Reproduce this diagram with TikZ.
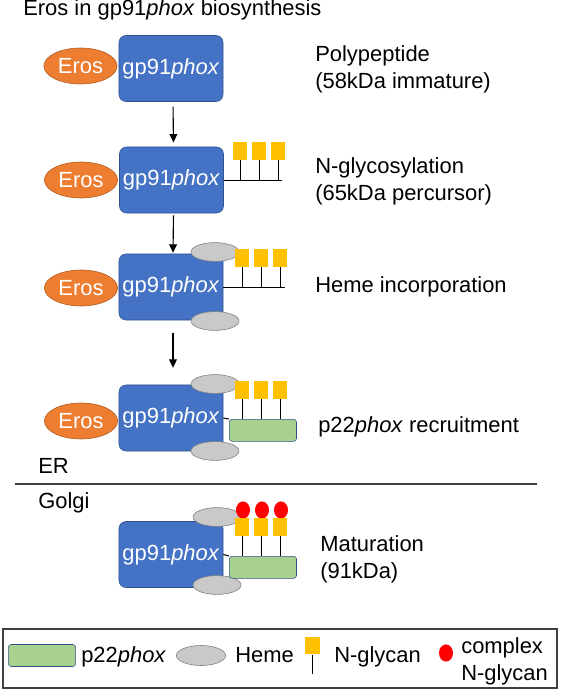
\documentclass[tikz,border=0pt]{standalone}
\usepackage{fontspec}
\setmainfont{Liberation Sans}
\usetikzlibrary{arrows.meta,shapes.geometric}

\definecolor{gpblue}{HTML}{4472C4}
\definecolor{gpedge}{HTML}{2F528F}
\definecolor{erosorange}{HTML}{ED7D31}
\definecolor{erosedge}{HTML}{AE5A21}
\definecolor{hemegray}{HTML}{C9C9C9}
\definecolor{hemeedge}{HTML}{7F7F7F}
\definecolor{glyyellow}{HTML}{FFC000}
\definecolor{ptgreen}{HTML}{A9D18E}
\definecolor{rulegray}{HTML}{404040}

\tikzset{
  every node/.style={font=\fontsize{15.6}{19.2}\selectfont},
  gp/.style={draw=gpedge, fill=gpblue, rounded corners=5pt, minimum width=2.6cm, minimum height=1.65cm, text=white, inner sep=0pt},
  eros/.style={ellipse, draw=erosedge, fill=erosorange, minimum width=1.83cm, minimum height=0.9cm, text=white, inner sep=0pt},
  heme/.style={ellipse, draw=hemeedge, fill=hemegray, minimum width=1.2cm, minimum height=0.47cm, inner sep=0pt},
  glyc/.style={fill=glyyellow, minimum width=0.37cm, minimum height=0.44cm, inner sep=0pt},
  cplx/.style={ellipse, fill=red, minimum width=0.35cm, minimum height=0.43cm, inner sep=0pt},
  ptbox/.style={draw=gpedge, fill=ptgreen, rounded corners=2pt, minimum width=1.68cm, minimum height=0.55cm, inner sep=0pt},
  lbl/.style={anchor=base west, inner sep=0pt, align=left},
  flow/.style={-{Triangle[length=6pt,width=5.5pt]}, line width=0.8pt},
  stem/.style={line width=0.7pt}
}

\begin{document}
\begin{tikzpicture}[x=0.025cm,y=-0.025cm]
\useasboundingbox (0,0) rectangle (560,689);

\node[lbl] (title) at (23,16) {Eros in gp91\textit{phox} biosynthesis};

% polypeptide
\node[gp] (gp1) at (171,68.5) {gp91\textit{phox}};
\node[eros] (er1) at (80.5,66) {Eros};
\node[lbl] (s1) at (315,89) {Polypeptide\\(58kDa immature)};

% N-glycosylation
\node[gp] (gp2) at (171.5,180) {gp91\textit{phox}};
\node[eros] (er2) at (81,180) {Eros};
\draw[stem] (gp2.east) -- ++(58,0);
\foreach \i/\x in {1/240,2/259,3/278} {
  \node[glyc] (g2\i) at (\x,151) {};
  \draw[stem] (g2\i.south) -- (g2\i.south |- gp2.east);
}
\node[lbl] (s2) at (315,200) {N-glycosylation\\(65kDa percursor)};

% heme
\node[gp] (gp3) at (171,287) {gp91\textit{phox}};
\node[eros] (er3) at (81,288) {Eros};
\node[heme] (h3a) at (215,252) {};
\node[heme] (h3b) at (215,321) {};
\draw[stem] (gp3.east) -- ++(62,0);
\foreach \i/\x in {1/242,2/261,3/280} {
  \node[glyc] (g3\i) at (\x,258) {};
  \draw[stem] (g3\i.south) -- (g3\i.south |- gp3.east);
}
\node[lbl] (s3) at (315,292) {Heme incorporation};

% p22phox
\node[gp] (gp4) at (171,418) {gp91\textit{phox}};
\node[eros] (er4) at (81,421) {Eros};
\node[heme] (h4a) at (215,384) {};
\node[heme] (h4b) at (215,451) {};
\node[ptbox, anchor=north west] (pt4) at (229,419) {};
\draw[stem] (gp4.east) -- (pt4.north west);
\foreach \i/\x in {1/242,2/261,3/280} {
  \node[glyc] (g4\i) at (\x,390) {};
  \draw[stem] (g4\i.south) -- (g4\i.south |- pt4.north);
}
\node[lbl] (s4) at (318,432) {p22\textit{phox} recruitment};

% ER / Golgi
\node[lbl] (er) at (38,473) {ER};
\draw[line width=1.2pt, rulegray] (15,484) -- (537,484);
\node[lbl] (golgi) at (38,508) {Golgi};

% maturation
\node[gp] (gp5) at (171,554.5) {gp91\textit{phox}};
\node[heme] (h5a) at (217,517) {};
\node[heme] (h5b) at (217,585) {};
\node[ptbox, anchor=north west] (pt5) at (229,556) {};
\draw[stem] (gp5.east) -- (pt5.north west);
\foreach \i/\x in {1/242,2/261,3/280} {
  \node[cplx] (c5\i) at (\x+1,510) {};
  \node[glyc] (g5\i) at (\x,527) {};
  \draw[stem] (g5\i.south) -- (g5\i.south |- pt5.north);
}
\node[lbl] (s5) at (320,578) {Maturation\\(91kDa)};

% steps
\draw[flow, shorten <=3.5pt, shorten >=3pt] ([xshift=0.05cm]gp1.south) -- ([xshift=0.05cm]gp2.north);
\draw[flow, shorten <=1.5pt, shorten >=0.7pt] ([xshift=0.05cm]gp2.south) -- ([xshift=0.05cm]gp3.north);
\draw[flow, shorten <=9pt, shorten >=12pt] ([xshift=0.05cm]gp3.south) -- ([xshift=0.05cm]gp4.north);

% legend
\draw[line width=1.2pt, rulegray] (3,629) rectangle (557,688);
\node[ptbox] (kp) at (42,655.5) {};
\node[lbl] (kpt) at (81,662) {p22\textit{phox}};
\node[heme, minimum width=1.23cm, minimum height=0.5cm] (kh) at (201,655.5) {};
\node[lbl] (kht) at (235,662) {Heme};
\node[glyc] (kg) at (312.5,645.5) {};
\coordinate (kgs) at (312.5,674);
\draw[stem] (kg.south) -- (kgs);
\node[lbl] (kgt) at (334,662) {N-glycan};
\node[cplx] (kc) at (446,653) {};
\node[lbl] (kct) at (461,680) {complex\\N-glycan};
\end{tikzpicture}
\end{document}
